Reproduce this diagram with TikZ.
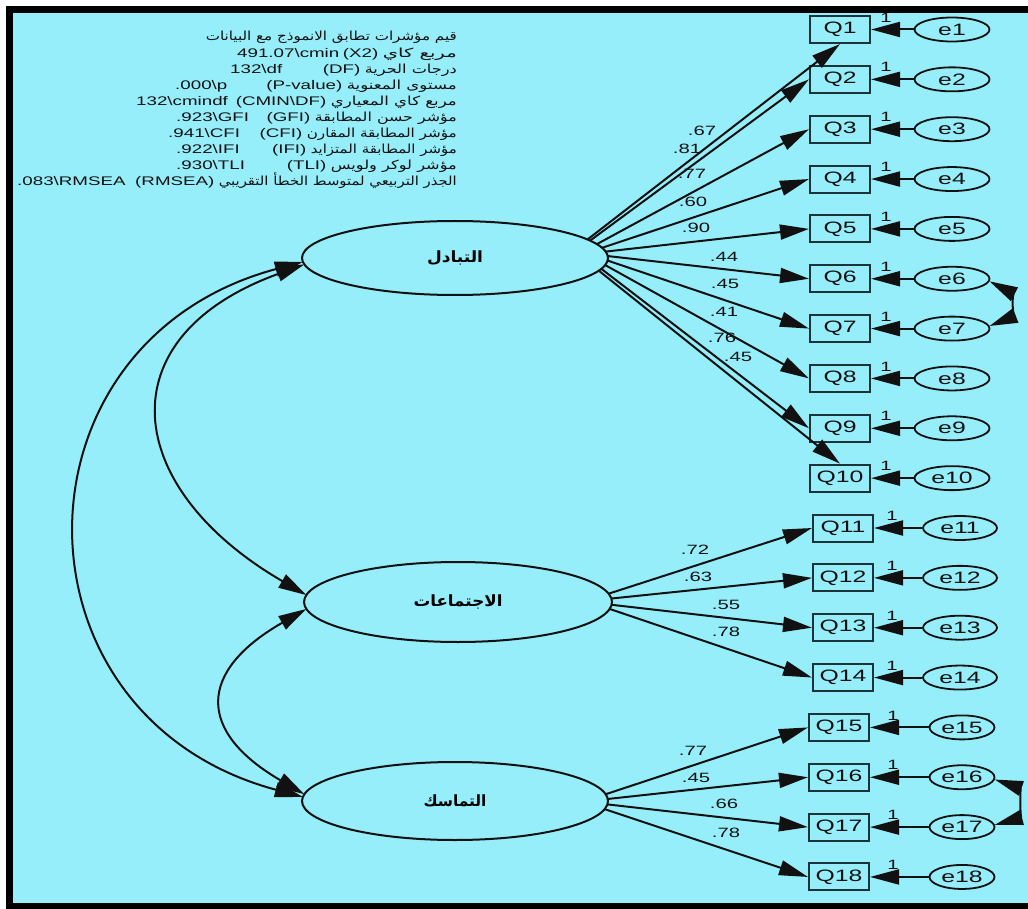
\documentclass[tikz,border=0pt]{standalone}
\usepackage{fontspec}
\usepackage{graphicx}
\usetikzlibrary{arrows.meta,calc,shapes.geometric}
\TeXXeTstate=1
\setmainfont{Liberation Sans}
\newfontfamily\wide[FakeStretch=1.5]{Liberation Sans}
\newfontfamily\arabicfont[Script=Arabic]{DejaVu Sans}
\definecolor{bgcyan}{RGB}{150,238,250}
\definecolor{ink}{RGB}{17,17,17}
\definecolor{boxline}{RGB}{28,52,56}
% Arabic text stretched to a given width
\newcommand{\arline}[2]{\resizebox{#1}{\height}{\arabicfont\fontsize{12.5}{14}\selectfont #2}}
\newcommand{\arlabel}[2]{\resizebox{#1}{\height}{\arabicfont\bfseries\fontsize{15.5}{16}\selectfont #2}}

\begin{document}
\begin{tikzpicture}[x=1pt,y=-1pt,
  obs/.style={rectangle,draw=boxline,line width=2pt,minimum width=60pt,minimum height=27pt,
    inner sep=0pt,text=ink,font=\wide\fontsize{16.5}{16}\selectfont},
  err/.style={ellipse,draw=ink,line width=1.8pt,minimum width=#1,minimum height=24pt,
    inner sep=0pt,text=ink,font=\wide\fontsize{16.5}{16}\selectfont},
  err/.default=75pt,
  latent/.style={ellipse,draw=ink,line width=2pt,inner sep=0pt},
  load/.style={line width=2pt,draw=ink,-{Triangle[length=29pt,width=15pt]}},
  cov/.style={line width=2pt,draw=ink,{Triangle[length=28pt,width=15pt]}-{Triangle[length=28pt,width=15pt]}},
  coef/.style={inner sep=0pt,text=ink,font=\wide\fontsize{13.5}{13}\selectfont},
  stat/.style={inner sep=0pt,text=ink,font=\wide\fontsize{12.5}{14}\selectfont}]

\useasboundingbox (0,0) rectangle (1028,909);
% frame and background
\fill[white] (0,0) rectangle (1028,909);
\fill[black] (6,6) rectangle (1028,909);
\fill[bgcyan] (13,13) rectangle (1028,903);

% latent factors
\node[latent,minimum width=306pt,minimum height=74pt] (F1) at (455,258) {\arlabel{56pt}{\beginR التبادل\endR}};
\node[latent,minimum width=308pt,minimum height=80pt] (F2) at (458,602) {\arlabel{89pt}{\beginR الاجتماعات\endR}};
\node[latent,minimum width=306pt,minimum height=78pt] (F3) at (455,801) {\arlabel{63pt}{\beginR التماسك\endR}};

% indicators with their error terms
\foreach \i in {1,...,10}{
  \pgfmathsetmacro{\yy}{29.5+(\i-1)*49.85}
  \node[obs] (Q\i) at (840,\yy) {Q\i};
  \node[err] (e\i) at (952,\yy) {e\i};
  \draw[load] (e\i) -- (Q\i);
  \node[coef] at (886,\yy-12) {1};
}
\foreach \i in {11,...,14}{
  \pgfmathsetmacro{\yy}{29.5+(\i-1)*49.85}
  \node[obs] (Q\i) at (843,\yy) {Q\i};
  \node[err=74pt] (e\i) at (960,\yy) {e\i};
  \draw[load] (e\i) -- (Q\i);
  \node[coef] at (892,\yy-12) {1};
}
\foreach \i in {15,...,18}{
  \pgfmathsetmacro{\yy}{29.5+(\i-1)*49.85}
  \node[obs] (Q\i) at (839,\yy) {Q\i};
  \node[err=65pt] (e\i) at (962,\yy) {e\i};
  \draw[load] (e\i) -- (Q\i);
  \node[coef] at (893,\yy-12) {1};
}

% loadings of the first factor
\foreach \i/\a in {1/-30,2/-28,3/-22,4/-16,5/-10,6/-3,7/4,8/11,9/17,10/20}
  \coordinate (s\i) at ($(F1)+(\a:153 and 37)$);
\draw[load] (s1) -- (Q1.south);
\foreach \i in {2,...,9} \draw[load] (s\i) -- (Q\i.west);
\draw[load] (s10) -- (Q10.north);

% loadings of the second factor
\foreach \i/\a in {11/-12,12/-5,13/4,14/10}{
  \coordinate (s\i) at ($(F2)+(\a:154 and 40)$);
  \draw[load] (s\i) -- (Q\i.west);
}
% loadings of the third factor
\foreach \i/\a in {15/-10,16/-3,17/5,18/12}{
  \coordinate (s\i) at ($(F3)+(\a:153 and 39)$);
  \draw[load] (s\i) -- (Q\i.west);
}

% standardized coefficients
\foreach \x/\y/\t in {702/131/.67,687/149/.81,692/174/.77,693/202/.60,696/228/.90,
    724/257/.44,725/284/.45,724/312/.41,722/338/.76,738/357/.45,
    695/550/.72,698/577/.63,726/605/.55,726/632/.78,
    693/751/.77,696/778/.45,724/804/.66,726/833/.78}
  \node[coef] at (\x,\y) {\t};

% factor covariances
\coordinate (c1a) at ($(F1)+(174:153 and 37)$);
\coordinate (c1b) at ($(F3)+(186:153 and 39)$);
\draw[cov] (c1a) .. controls (4,342) and (4,717) .. (c1b);
\coordinate (c2a) at ($(F1)+(170:153 and 37)$);
\coordinate (c2b) at ($(F2)+(190:154 and 40)$);
\draw[cov] (c2a) .. controls (104,337) and (122,488) .. (c2b);
\coordinate (c3a) at ($(F2)+(170:154 and 40)$);
\coordinate (c3b) at ($(F3)+(190:153 and 39)$);
\draw[cov] (c3a) .. controls (198,671) and (196,731) .. (c3b);

% correlated errors
\draw[cov] (e6.-4) .. controls (1012,293) and (1012,317) .. (e7.4);
\draw[cov] (e16.-4) .. controls (1020,788) and (1020,818) .. (e17.4);

% fit indices
\node[stat,anchor=base east] (a1) at (457,41) {\arline{251pt}{\beginR قيم مؤشرات تطابق الانموذج مع البيانات\endR}};

\node[stat,anchor=base east] (a2) at (457,57.1) {\arline{74pt}{\beginR مربع كاي\endR}};
\node[stat,anchor=base east] (b2) at ([xshift=-4pt]a2.base west) {(X2)};
\node[stat,anchor=base west] (v2) at (237,57.1) {491.07\textbackslash cmin};

\node[stat,anchor=base east] (a3) at (457,73.2) {\arline{92pt}{\beginR درجات الحرية\endR}};
\node[stat,anchor=base east] (b3) at ([xshift=-4pt]a3.base west) {(DF)};
\node[stat,anchor=base west] (v3) at (230,73.2) {132\textbackslash df};

\node[stat,anchor=base east] (a4) at (457,89.3) {\arline{110pt}{\beginR مستوى المعنوية\endR}};
\node[stat,anchor=base east] (b4) at ([xshift=-4pt]a4.base west) {(P-value)};
\node[stat,anchor=base west] (v4) at (175,89.3) {.000\textbackslash p};

\node[stat,anchor=base east] (a5) at (457,105.4) {\arline{126pt}{\beginR مربع كاي المعياري\endR}};
\node[stat,anchor=base east] (b5) at ([xshift=-4pt]a5.base west) {(CMIN\textbackslash DF)};
\node[stat,anchor=base west] (v5) at (136,105.4) {132\textbackslash cmindf};

\node[stat,anchor=base east] (a6) at (457,121.5) {\arline{142pt}{\beginR مؤشر حسن المطابقة\endR}};
\node[stat,anchor=base east] (b6) at ([xshift=-4pt]a6.base west) {(GFI)};
\node[stat,anchor=base west] (v6) at (176,121.5) {.923\textbackslash GFI};

\node[stat,anchor=base east] (a7) at (457,137.6) {\arline{150pt}{\beginR مؤشر المطابقة المقارن\endR}};
\node[stat,anchor=base east] (b7) at ([xshift=-4pt]a7.base west) {(CFI)};
\node[stat,anchor=base west] (v7) at (168,137.6) {.941\textbackslash CFI};

\node[stat,anchor=base east] (a8) at (457,153.7) {\arline{146pt}{\beginR مؤشر المطابقة المتزايد\endR}};
\node[stat,anchor=base east] (b8) at ([xshift=-4pt]a8.base west) {(IFI)};
\node[stat,anchor=base west] (v8) at (176,153.7) {.922\textbackslash IFI};

\node[stat,anchor=base east] (a9) at (457,169.8) {\arline{126pt}{\beginR مؤشر لوكر ولويس\endR}};
\node[stat,anchor=base east] (b9) at ([xshift=-4pt]a9.base west) {(TLI)};
\node[stat,anchor=base west] (v9) at (176,169.8) {.930\textbackslash TLI};

\node[stat,anchor=base east] (a10) at (457,185.9) {\arline{238pt}{\beginR الجذر التربيعي لمتوسط الخطأ التقريبي\endR}};
\node[stat,anchor=base east] (b10) at ([xshift=-4pt]a10.base west) {(RMSEA)};
\node[stat,anchor=base west] (v10) at (17,185.9) {.083\textbackslash RMSEA};
\end{tikzpicture}
\end{document}
